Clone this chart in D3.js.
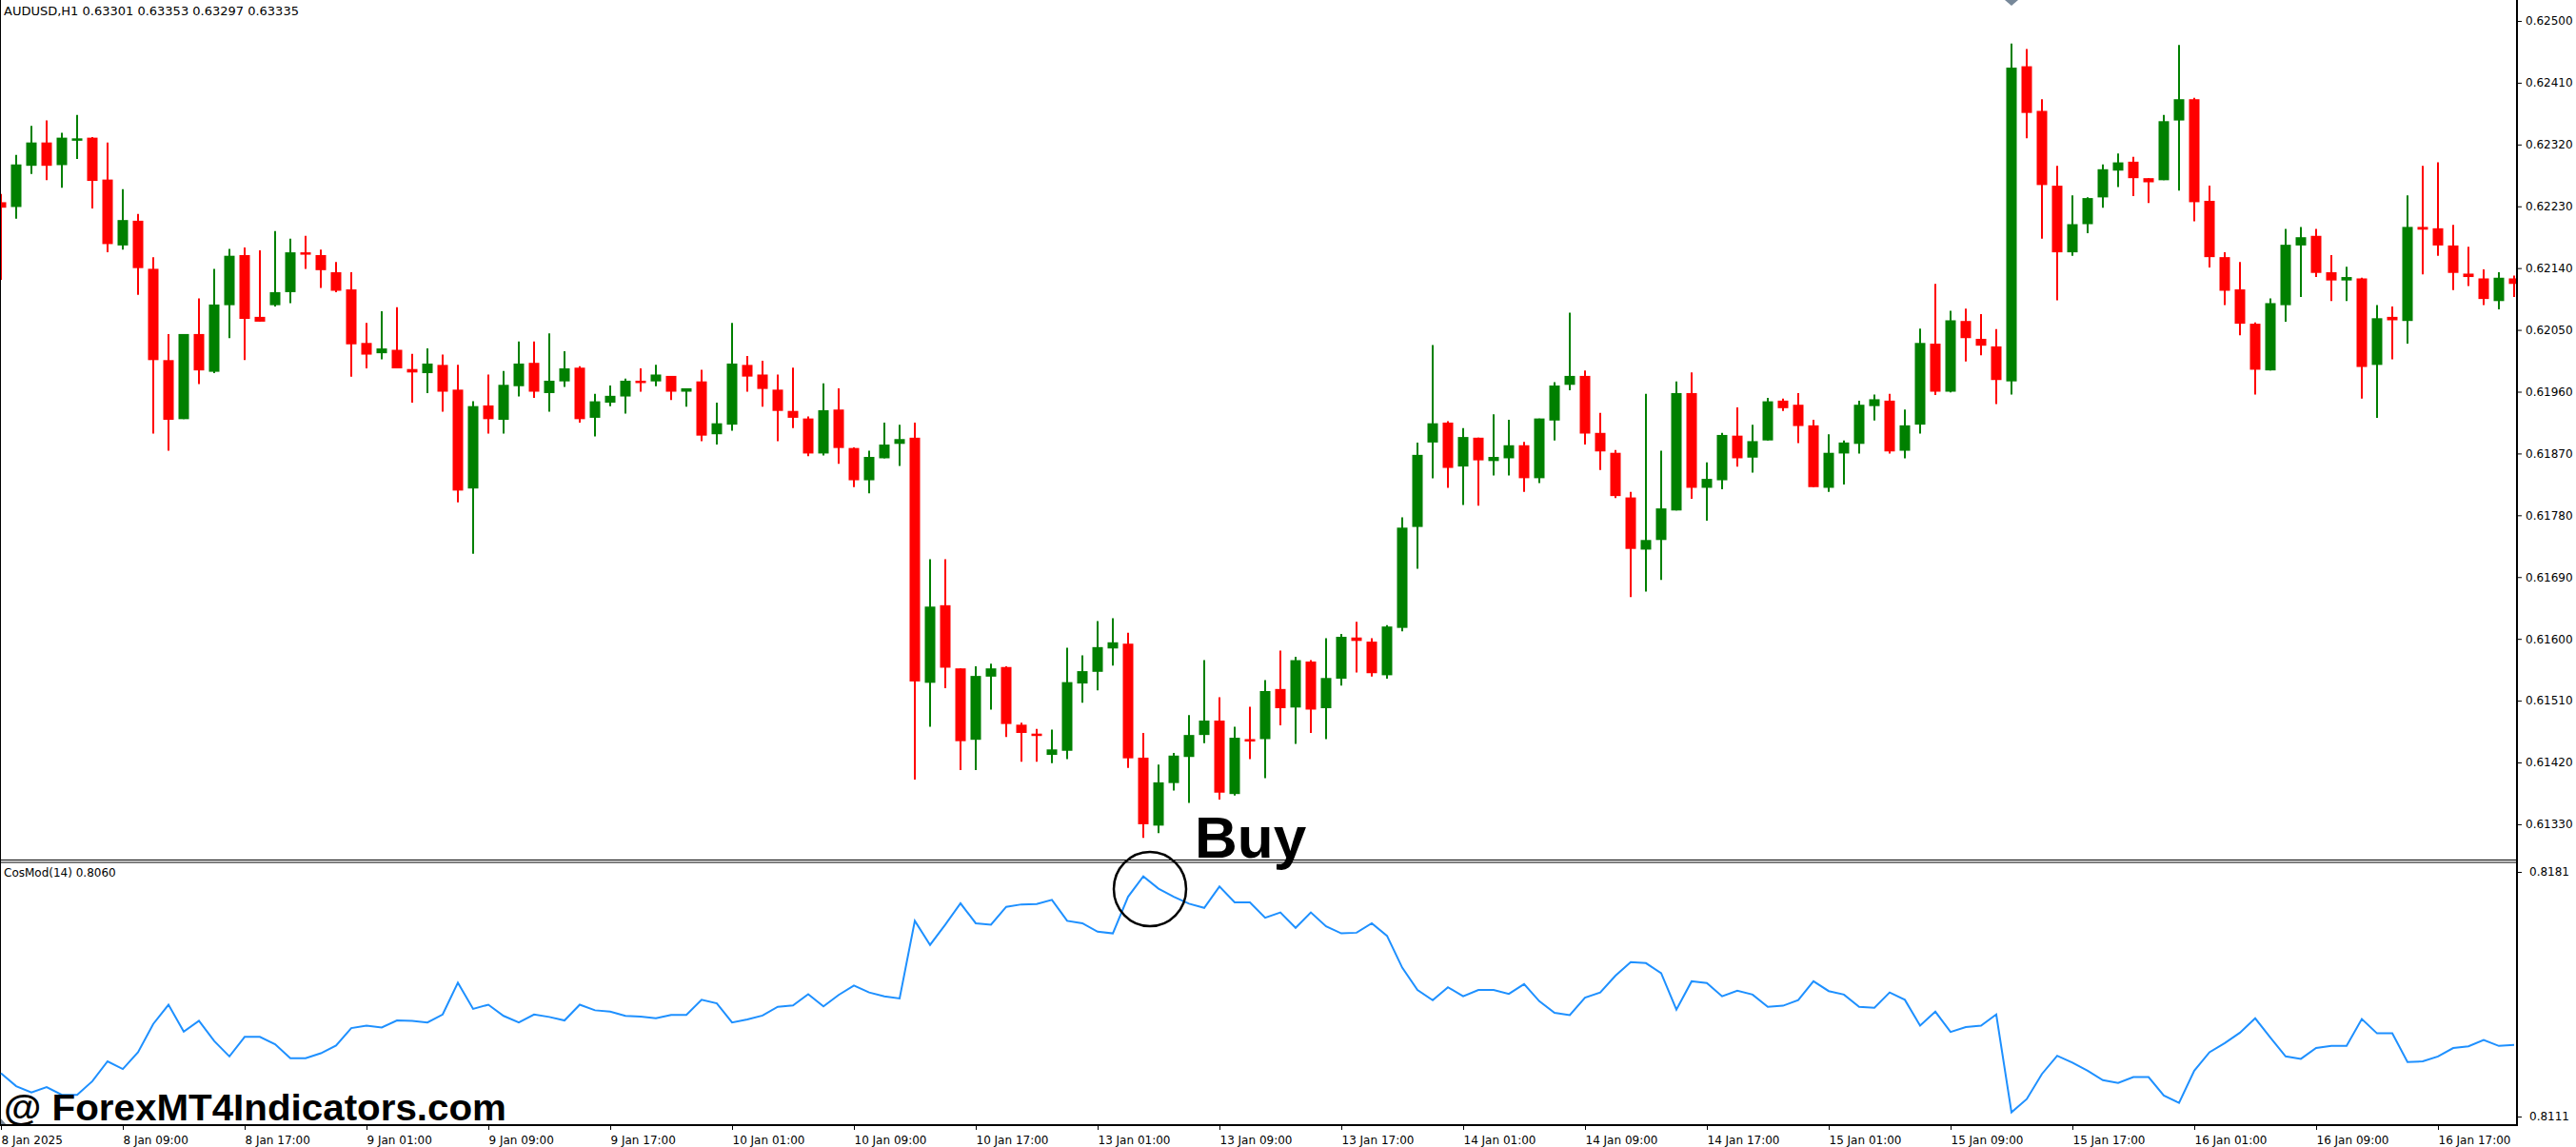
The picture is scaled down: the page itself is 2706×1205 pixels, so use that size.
<!DOCTYPE html>
<html><head><meta charset="utf-8">
<script src="https://cdn.jsdelivr.net/npm/d3@7"></script>
<style>html,body{margin:0;padding:0;background:#fff;overflow:hidden}</style>
</head><body><svg id="c" width="2706" height="1205"></svg>
<script>
const open=[.62236,.62229,.62289,.62323,.62290,.62328,.62330,.62269,.62173,.62209,.62139,.62006,.61920,.62044,.61989,.62086,.62159,.62069,.62086,.62105,.62163,.62159,.62134,.62109,.62031,.62016,.62021,.61993,.61987,.61999,.61963,.61819,.61940,.61919,.61968,.62002,.61958,.61975,.61995,.61922,.61944,.61953,.61976,.61975,.61983,.61960,.61975,.61898,.61912,.61999,.61985,.61963,.61932,.61921,.61870,.61934,.61878,.61831,.61863,.61884,.61893,.61536,.61649,.61557,.61453,.61545,.61559,.61475,.61462,.61431,.61437,.61535,.61552,.61586,.61593,.61427,.61328,.61390,.61428,.61460,.61481,.61374,.61454,.61454,.61527,.61500,.61567,.61499,.61542,.61602,.61596,.61547,.61616,.61763,.61886,.61915,.61851,.61893,.61859,.61863,.61882,.61834,.61918,.61970,.61983,.61900,.61871,.61806,.61730,.61744,.61787,.61958,.61820,.61831,.61896,.61864,.61889,.61947,.61941,.61911,.61820,.61870,.61884,.61939,.61947,.61874,.61912,.62030,.61960,.62063,.62037,.62026,.61975,.62434,.62369,.62260,.62163,.62204,.62243,.62282,.62295,.62271,.62268,.62355,.62386,.62238,.62156,.62109,.62059,.61991,.62086,.62173,.62187,.62134,.62122,.62125,.61999,.62069,.62063,.62200,.62198,.62173,.62132,.62125,.62092,.62125];
const high=[.62248,.62305,.62347,.62355,.62337,.62363,.62331,.62323,.62255,.62219,.62156,.62044,.62044,.62096,.62139,.62168,.62170,.62166,.62194,.62183,.62187,.62167,.62149,.62134,.62060,.62077,.62083,.62015,.62023,.62014,.61999,.61946,.61985,.61990,.62033,.62033,.62045,.62019,.61997,.61957,.61969,.61979,.61994,.61999,.61983,.61965,.61992,.61944,.62060,.62012,.62005,.61985,.61995,.61924,.61972,.61965,.61879,.61874,.61915,.61912,.61915,.61716,.61716,.61557,.61560,.61564,.61560,.61478,.61469,.61468,.61587,.61576,.61626,.61630,.61609,.61463,.61417,.61434,.61489,.61569,.61515,.61472,.61501,.61540,.61583,.61574,.61569,.61601,.61607,.61625,.61601,.61620,.61777,.61886,.62028,.61917,.61907,.61893,.61927,.61919,.61887,.61921,.61974,.62075,.61991,.61929,.61875,.61814,.61957,.61874,.61975,.61988,.61857,.61900,.61937,.61912,.61951,.61950,.61958,.61919,.61898,.61889,.61947,.61956,.61957,.61934,.62052,.62117,.62078,.62081,.62073,.62051,.62467,.62459,.62386,.62289,.62246,.62243,.62291,.62307,.62302,.62271,.62363,.62465,.62388,.62260,.62163,.62149,.62061,.62096,.62197,.62200,.62197,.62159,.62142,.62126,.62086,.62084,.62246,.62289,.62294,.62203,.62171,.62138,.62134,.62129];
const low=[.62123,.62212,.62277,.62268,.62257,.62299,.62227,.62163,.62167,.62101,.61899,.61874,.61920,.61971,.61987,.62038,.62006,.62062,.62084,.62089,.62139,.62111,.62105,.61982,.61994,.62007,.61994,.61944,.61958,.61931,.61799,.61724,.61899,.61899,.61953,.61951,.61931,.61967,.61915,.61895,.61939,.61928,.61960,.61968,.61948,.61938,.61888,.61883,.61903,.61960,.61938,.61888,.61907,.61866,.61867,.61855,.61821,.61812,.61863,.61852,.61395,.61472,.61528,.61409,.61409,.61497,.61457,.61421,.61421,.61419,.61425,.61507,.61525,.61561,.61412,.61310,.61317,.61379,.61361,.61448,.61366,.61372,.61425,.61397,.61474,.61447,.61463,.61454,.61532,.61551,.61545,.61542,.61611,.61702,.61834,.61820,.61795,.61794,.61838,.61838,.61814,.61827,.61889,.61962,.61883,.61846,.61805,.61661,.61669,.61686,.61787,.61804,.61772,.61818,.61851,.61842,.61889,.61932,.61885,.61821,.61814,.61825,.61870,.61918,.61870,.61863,.61899,.61955,.61959,.62004,.62013,.61942,.61956,.62329,.62183,.62093,.62158,.62191,.62228,.62258,.62245,.62235,.62268,.62253,.62208,.62141,.62086,.62042,.61956,.61991,.62062,.62098,.62127,.62092,.62092,.61950,.61922,.62007,.62030,.62131,.62158,.62108,.62114,.62086,.62080,.62098];
const close=[.62228,.62291,.62323,.62289,.62330,.62329,.62267,.62175,.62210,.62140,.62006,.61919,.62044,.61991,.62087,.62158,.62066,.62062,.62105,.62163,.62160,.62137,.62107,.62029,.62014,.62023,.61994,.61988,.62001,.61960,.61816,.61939,.61920,.61970,.62001,.61960,.61976,.61994,.61920,.61946,.61954,.61976,.61974,.61985,.61960,.61965,.61896,.61914,.62001,.61982,.61964,.61932,.61922,.61870,.61933,.61878,.61831,.61865,.61883,.61891,.61538,.61647,.61558,.61451,.61546,.61557,.61476,.61463,.61460,.61439,.61537,.61553,.61588,.61595,.61426,.61330,.61391,.61430,.61460,.61481,.61376,.61456,.61451,.61524,.61499,.61569,.61497,.61543,.61603,.61597,.61550,.61618,.61762,.61868,.61914,.61849,.61894,.61860,.61865,.61882,.61834,.61921,.61969,.61983,.61899,.61873,.61808,.61731,.61744,.61790,.61958,.61820,.61833,.61897,.61863,.61888,.61946,.61936,.61910,.61821,.61871,.61886,.61941,.61949,.61873,.61911,.62031,.61960,.62064,.62038,.62027,.61977,.62432,.62366,.62261,.62163,.62204,.62242,.62284,.62294,.62271,.62265,.62354,.62386,.62236,.62156,.62107,.62059,.61992,.62089,.62174,.62185,.62133,.62122,.62127,.61996,.62067,.62064,.62200,.62196,.62173,.62133,.62127,.62095,.62126,.62117];
const cosmod=[.81234,.81197,.81179,.81194,.81172,.81172,.81211,.81268,.81246,.81294,.81375,.81430,.81353,.81384,.81326,.81282,.81338,.81338,.81317,.81277,.81277,.81291,.81313,.81363,.81370,.81365,.81385,.81384,.81379,.81402,.81493,.81418,.81430,.81398,.81379,.81402,.81395,.81385,.81430,.81414,.81410,.81398,.81396,.81391,.81401,.81401,.81444,.81434,.81379,.81388,.81399,.81424,.81428,.81460,.81425,.81458,.81485,.81465,.81454,.81448,.81670,.81601,.81659,.81720,.81663,.81659,.81710,.81717,.81718,.81730,.81670,.81663,.81639,.81634,.81739,.81797,.81762,.81739,.81719,.81707,.81768,.81723,.81723,.81679,.81694,.81650,.81694,.81654,.81634,.81636,.81663,.81627,.81536,.81472,.81443,.81480,.81454,.81472,.81472,.81461,.81489,.81440,.81407,.81400,.81450,.81465,.81513,.81552,.81549,.81520,.81416,.81497,.81492,.81454,.81470,.81459,.81424,.81427,.81443,.81497,.81469,.81459,.81424,.81421,.81465,.81444,.81370,.81410,.81352,.81366,.81370,.81402,.81122,.81160,.81232,.81284,.81264,.81241,.81214,.81206,.81223,.81223,.81170,.81149,.81241,.81294,.81320,.81350,.81391,.81336,.81282,.81275,.81306,.81312,.81312,.81389,.81348,.81348,.81266,.81268,.81282,.81306,.81311,.81329,.81312,.81315];
const priceTicks=[0.62500,0.62410,0.62320,0.62230,0.62140,0.62050,0.61960,0.61870,0.61780,0.61690,0.61600,0.61510,0.61420,0.61330];
const indTicks=[0.8181,0.8111];
const timeLabels=["8 Jan 2025","8 Jan 09:00","8 Jan 17:00","9 Jan 01:00","9 Jan 09:00","9 Jan 17:00","10 Jan 01:00","10 Jan 09:00","10 Jan 17:00","13 Jan 01:00","13 Jan 09:00","13 Jan 17:00","14 Jan 01:00","14 Jan 09:00","14 Jan 17:00","15 Jan 01:00","15 Jan 09:00","15 Jan 17:00","16 Jan 01:00","16 Jan 09:00","16 Jan 17:00"];
const timeIdx=d3.range(0,161,8);
const header="AUDUSD,H1  0.63301 0.63353 0.63297 0.63335";
const indLabel="CosMod(14) 0.8060";

const svg=d3.select("#c");
const W=2706,AX=2644,MB=903,IT=906,IB=1182;
const F="DejaVu Sans, sans-serif";
svg.append("rect").attr("width",W).attr("height",1205).attr("fill","#fff");
const x=d3.scaleLinear().domain([0,165]).range([1,2641]);
const y=d3.scaleLinear().domain([0.612786,0.625305]).range([MB,0]);
const yi=d3.scaleLinear().domain([0.810855,0.818372]).range([IB,IT]);

const main=svg.append("g");
main.append("defs").append("clipPath").attr("id","cm").append("rect").attr("x",0).attr("y",0).attr("width",AX).attr("height",MB);
const cg=main.append("g").attr("clip-path","url(#cm)");
const idx=d3.range(open.length);
const col=i=>close[i]>=open[i]?"#008000":"#ff0000";
cg.selectAll("line.w").data(idx).join("line").attr("x1",i=>x(i)).attr("x2",i=>x(i))
 .attr("y1",i=>y(high[i])).attr("y2",i=>y(low[i])).attr("stroke",col).attr("stroke-width",2);
cg.selectAll("rect.b").data(idx).join("rect").attr("x",i=>x(i)-5.5).attr("width",11)
 .attr("y",i=>Math.min(y(open[i]),y(close[i])))
 .attr("height",i=>Math.max(2.5,Math.abs(y(open[i])-y(close[i])))).attr("fill",col);

svg.append("path").attr("d",`M${x(132)-7},0L${x(132)+7},0L${x(132)},6Z`).attr("fill","#778899");
svg.append("path").attr("d",`M0,${IB-8}L7,${IB}L0,${IB}Z`).attr("fill","#778899");

svg.append("line").attr("x1",0.5).attr("x2",0.5).attr("y1",0).attr("y2",IB).attr("stroke","#000");
svg.append("line").attr("x1",AX).attr("x2",AX).attr("y1",0).attr("y2",IB).attr("stroke","#000").attr("stroke-width",2);
svg.append("line").attr("x1",0).attr("x2",AX).attr("y1",MB+0.5).attr("y2",MB+0.5).attr("stroke","#000").attr("stroke-width",1);
svg.append("line").attr("x1",0).attr("x2",AX).attr("y1",IT).attr("y2",IT).attr("stroke","#000").attr("stroke-width",1);
svg.append("line").attr("x1",0).attr("x2",AX+1).attr("y1",IB).attr("y2",IB).attr("stroke","#000").attr("stroke-width",2);

const pa=svg.append("g").attr("transform",`translate(${AX},0)`)
 .call(d3.axisRight(y).tickValues(priceTicks).tickFormat(d3.format(".5f")).tickSize(5).tickPadding(4));
pa.select(".domain").remove();
pa.selectAll("text").attr("font-family",F).attr("font-size",12).attr("fill","#000");
const ia=svg.append("g").attr("transform",`translate(${AX},0)`)
 .call(d3.axisRight(yi).tickValues(indTicks).tickFormat(d3.format(".4f")).tickSize(5).tickPadding(8));
ia.select(".domain").remove();
ia.selectAll("text").attr("font-family",F).attr("font-size",12).attr("fill","#000");

const ta=svg.append("g").attr("transform",`translate(0,${IB})`)
 .call(d3.axisBottom(x).tickValues(timeIdx).tickFormat((d,k)=>timeLabels[k]).tickSize(5).tickPadding(6));
ta.select(".domain").remove();
ta.selectAll("text").attr("font-family",F).attr("font-size",12).attr("fill","#000").attr("text-anchor","start");

svg.append("defs").append("clipPath").attr("id","ci").append("rect").attr("x",0).attr("y",IT).attr("width",AX).attr("height",IB-IT);
svg.append("path").datum(cosmod).attr("clip-path","url(#ci)")
 .attr("d",d3.line().x((d,i)=>x(i)).y(d=>yi(d))).attr("fill","none").attr("stroke","#1e90ff").attr("stroke-width",2);

svg.append("text").attr("x",4).attr("y",16).attr("font-family",F).attr("font-size",13).text(header);
svg.append("text").attr("x",4).attr("y",921).attr("font-family",F).attr("font-size",12).text(indLabel);
svg.append("ellipse").attr("cx",x(75)+7).attr("cy",934).attr("rx",38).attr("ry",39).attr("fill","none").attr("stroke","#000").attr("stroke-width",2.5);
svg.append("text").attr("x",1255).attr("y",901).attr("font-family","Liberation Sans, Arial, sans-serif").attr("font-weight","bold").attr("font-size",62).attr("fill","#000").text("Buy");
svg.append("text").attr("x",4).attr("y",1177).attr("font-family","Liberation Sans Narrow, Liberation Sans, sans-serif").attr("font-weight","bold").attr("font-size",38).attr("textLength",528).attr("lengthAdjust","spacingAndGlyphs").attr("fill","#000").text("@ ForexMT4Indicators.com");
</script></body></html>
